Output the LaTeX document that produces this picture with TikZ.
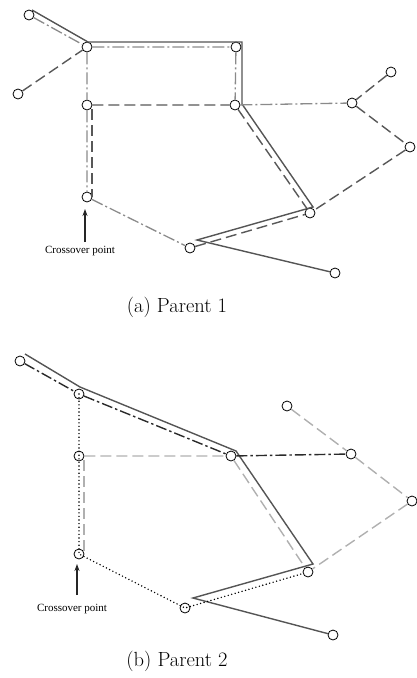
\documentclass[tikz,border=0pt]{standalone}
\usepackage{fontspec}
\newfontfamily\timesf{Liberation Serif}
\usetikzlibrary{arrows.meta}
\definecolor{solidc}{HTML}{555555}
\definecolor{ddA}{HTML}{8A8A8A}
\definecolor{dA}{HTML}{585858}
\definecolor{ddB}{HTML}{2A2A2A}
\definecolor{dB}{HTML}{B0B0B0}
\begin{document}
\begin{tikzpicture}[x=1pt,y=-1pt,
  vtx/.style={circle,draw=black,line width=0.8pt,inner sep=0pt,minimum size=10pt},
  solidl/.style={draw=solidc,line width=1.4pt,line join=miter},
  dashdotA/.style={draw=ddA,line width=1.3pt,dash pattern=on 12pt off 3pt on 2pt off 3pt},
  dashA/.style={draw=dA,line width=1.4pt,dash pattern=on 11pt off 5pt},
  dashdotB/.style={draw=ddB,line width=1.4pt,dash pattern=on 11pt off 3pt on 2.5pt off 3pt},
  dashB/.style={draw=dB,line width=1.4pt,dash pattern=on 11pt off 5pt},
  dotl/.style={draw=black,line width=1.6pt,dash pattern=on 0pt off 3.6pt,line cap=round},
  captext/.style={font=\fontsize{20.5}{24}\selectfont,inner sep=0pt},
  xlabel/.style={font=\timesf\fontsize{11}{13}\selectfont,inner sep=0pt},
  arr/.style={-{Stealth[length=7pt,width=5pt]},line width=1.1pt,draw=black!85}]
\useasboundingbox (0,0) rectangle (416,678);

% ---------------- Parent 1 ----------------
\node[vtx] (A) at (29,15) {};
\node[vtx] (B) at (87,47) {};
\node[vtx] (C) at (18,94) {};
\node[vtx] (D) at (236,47) {};
\node[vtx] (E) at (87,105) {};
\node[vtx] (F) at (235,105) {};
\node[vtx] (G) at (352,103) {};
\node[vtx] (H) at (391,72) {};
\node[vtx] (I) at (410,147) {};
\node[vtx] (J) at (310,213) {};
\node[vtx] (K) at (87,197) {};
\node[vtx] (L) at (190,248) {};
\node[vtx] (M) at (335,273) {};

\coordinate (s1) at (32,10);
\coordinate (s2) at (88,42);
\coordinate (s3) at (242,42);
\coordinate (s4) at (242,104);
\coordinate (s5) at (313,207);
\coordinate (s6) at (197,240);
\draw[solidl] (s1) -- (s2) -- (s3) -- (s4) -- (s5) -- (s6) -- (M);

\draw[dashdotA] (A) -- (B) -- (D) -- (F) -- (G);
\draw[dashdotA] (B) -- (E) -- (K) -- (L);

\coordinate (e2) at (92,109);
\coordinate (k2) at (92,197);
\draw[dashA] (C) -- (B);
\draw[dashA] (E) -- (F) -- (J);
\draw[dashA] (e2) -- (k2);
\draw[dashA] (L) -- (J);
\draw[dashA] (H) -- (G) -- (I) -- (J);

\coordinate (a1s) at (85,242);
\coordinate (a1e) at (85,209);
\draw[arr] (a1s) -- (a1e);
\node[xlabel] (x1) at (80,251) {Crossover point};
\node[captext] (cap1) at (177,307) {(a) Parent 1};

% ---------------- Parent 2 ----------------
\node[vtx] (a) at (20,361) {};
\node[vtx] (b) at (79,394) {};
\node[vtx] (c) at (79,456) {};
\node[vtx] (d) at (231,456) {};
\node[vtx] (e) at (287,406) {};
\node[vtx] (f) at (351,454) {};
\node[vtx] (g) at (412,501) {};
\node[vtx] (h) at (79,554) {};
\node[vtx] (i) at (308,572) {};
\node[vtx] (j) at (185,608) {};
\node[vtx] (k) at (333,635) {};

\coordinate (t1) at (25,354);
\coordinate (t2) at (80,387);
\coordinate (t3) at (236,451);
\coordinate (t4) at (313,564);
\coordinate (t5) at (193,598);
\draw[solidl] (t1) -- (t2) -- (t3) -- (t4) -- (t5) -- (k);

\draw[dashdotB] (a) -- (b) -- (d) -- (f);

\draw[dotl] (b.center) -- (c.center) -- (h.center) -- (j.center) -- (i);

\coordinate (c2) at (84,460);
\coordinate (h2) at (84,552);
\draw[dashB] (c) -- (d) -- (i);
\draw[dashB] (c2) -- (h2);
\draw[dashB] (e) -- (f) -- (g) -- (i);

\coordinate (a2s) at (77,595);
\coordinate (a2e) at (77,564);
\draw[arr] (a2s) -- (a2e);
\node[xlabel] (x2) at (72,609) {Crossover point};
\node[captext] (cap2) at (177,661) {(b) Parent 2};
\end{tikzpicture}
\end{document}
